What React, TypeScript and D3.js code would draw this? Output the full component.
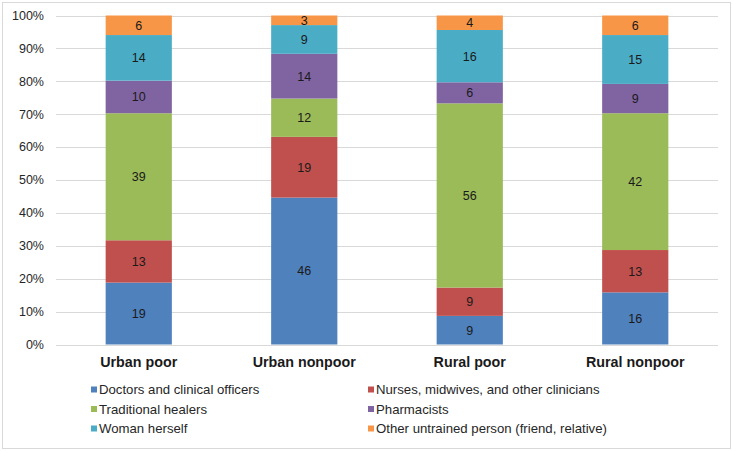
import React from "react";
import * as d3 from "d3";

const categories = ["Urban poor", "Urban nonpoor", "Rural poor", "Rural nonpoor"];
const seriesNames = [
  "Doctors and clinical officers",
  "Nurses, midwives, and other clinicians",
  "Traditional healers",
  "Pharmacists",
  "Woman herself",
  "Other untrained person (friend, relative)",
];
const doctors = [19, 46, 8.7, 16];
const nurses = [13, 19, 8.6, 13];
const healers = [39, 12, 56, 42];
const pharmacists = [10, 14, 6.4, 9];
const herself = [14, 9, 15.9, 15];
const others = [6, 3, 4.4, 6];
const colors = ["#4F81BD", "#C0504D", "#9BBB59", "#8064A2", "#4BACC6", "#F79646"];
const yTicks = [0, 0.1, 0.2, 0.3, 0.4, 0.5, 0.6, 0.7, 0.8, 0.9, 1.0];

const W = 733;
const H = 451;
const FONT = "'Liberation Sans', Arial, sans-serif";

export default function App() {
  const seriesValues = [doctors, nurses, healers, pharmacists, herself, others];
  const rows = categories.map((c, i) => {
    const r: any = { cat: c };
    seriesValues.forEach((s, k) => (r["s" + k] = s[i]));
    return r;
  });
  const keys = seriesValues.map((_, k) => "s" + k);
  const stack = d3.stack<any>().keys(keys).offset(d3.stackOffsetExpand);
  const stacked = stack(rows);

  const x = d3.scaleBand<string>().domain(categories).range([56, 718]).paddingInner(0.6).paddingOuter(0.3);
  const y = d3.scaleLinear().domain([0, 1]).range([344.5, 15.5]);
  const fmt = d3.format(".0%");
  const lab = d3.format(".0f");

  return (
    <svg width={W} height={H} style={{ position: "absolute", left: 0, top: 0 }} fontFamily={FONT}>
      <rect x={0} y={0} width={W} height={H} fill="#fff" />
      <rect x={2.5} y={2.5} width={W - 5} height={H - 5} fill="#fff" stroke="#d9d9d9" strokeWidth={1} />
      {yTicks.map((t) => (
        <g key={t}>
          <line x1={56} x2={718} y1={Math.round(y(t)) + 0.5} y2={Math.round(y(t)) + 0.5} stroke="#d9d9d9" strokeWidth={1} />
          <text x={44} y={y(t)} dy="0.35em" textAnchor="end" fontSize={12.5} fill="#262626">
            {fmt(t)}
          </text>
        </g>
      ))}
      {stacked.map((layer, k) => (
        <g key={k}>
          {layer.map((d, i) => {
            const x0 = x(categories[i])!;
            const y0 = y(d[1]);
            const y1 = y(d[0]);
            return (
              <g key={i}>
                <rect x={x0} y={y0} width={x.bandwidth()} height={y1 - y0} fill={colors[k]} />
                <text
                  x={x0 + x.bandwidth() / 2}
                  y={(y0 + y1) / 2}
                  dy="0.35em"
                  textAnchor="middle"
                  fontSize={12.5}
                  fill="#1a1a1a"
                >
                  {lab(seriesValues[k][i])}
                </text>
              </g>
            );
          })}
        </g>
      ))}
      {categories.map((c) => (
        <text key={c} x={x(c)! + x.bandwidth() / 2} y={367} textAnchor="middle" fontSize={14.3} fontWeight="bold" fill="#1a1a1a">
          {c}
        </text>
      ))}
      {seriesNames.map((n, k) => {
        const col = k % 2;
        const row = Math.floor(k / 2);
        const lx = col === 0 ? 91 : 368;
        const ly = [389.5, 409, 428.5][row];
        return (
          <g key={n}>
            <rect x={lx} y={ly - 3} width={6} height={6} fill={colors[k]} />
            <text x={lx + 8} y={ly} dy="0.35em" fontSize={13.2} fill="#262626">
              {n}
            </text>
          </g>
        );
      })}
    </svg>
  );
}
